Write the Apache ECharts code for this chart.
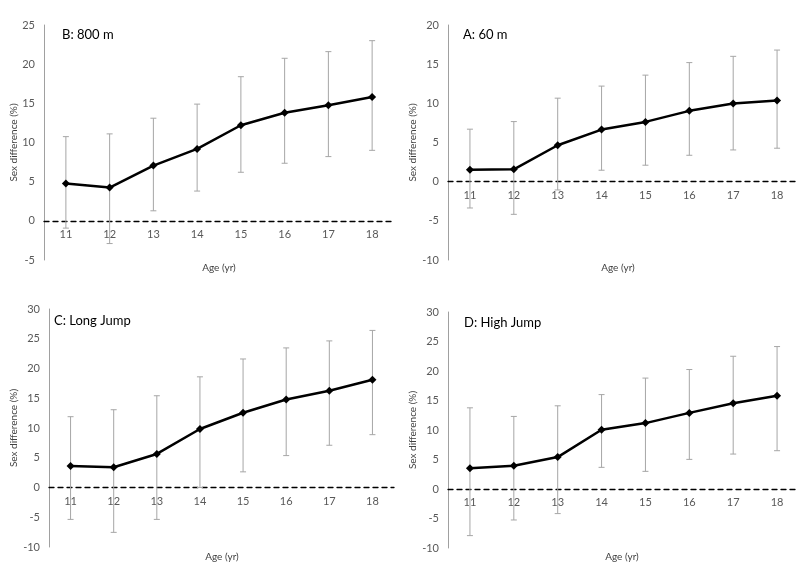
<!DOCTYPE html>
<html><head><meta charset="utf-8">
<script src="https://cdn.jsdelivr.net/npm/echarts@6/dist/echarts.min.js"></script>
<style>html,body{margin:0;padding:0;background:#fff}#c{width:800px;height:565px}</style>
</head><body><div id="c"></div>
<script>
const ages = ['11','12','13','14','15','16','17','18'];

const m800Mean = [4.76, 4.25, 7.05, 9.18, 12.2, 13.8, 14.75, 15.8];
const m800Low  = [-0.93, -2.9, 1.28, 3.8, 6.2, 7.35, 8.2, 9.0];
const m800High = [10.75, 11.1, 13.1, 14.9, 18.4, 20.75, 21.6, 23.0];

const m60Mean = [1.53, 1.58, 4.65, 6.65, 7.63, 9.04, 9.97, 10.36];
const m60Low  = [-3.36, -4.17, -1.06, 1.46, 2.1, 3.37, 4.05, 4.27];
const m60High = [6.7, 7.67, 10.66, 12.2, 13.6, 15.2, 16.0, 16.8];

const ljMean = [3.63, 3.41, 5.64, 9.83, 12.57, 14.8, 16.26, 18.1];
const ljLow  = [-5.36, -7.54, -5.36, 0.0, 2.63, 5.36, 7.1, 8.88];
const ljHigh = [11.9, 13.07, 15.42, 18.6, 21.6, 23.46, 24.64, 26.4];

const hjMean = [3.5, 3.95, 5.41, 10.04, 11.17, 12.9, 14.55, 15.8];
const hjLow  = [-7.9, -5.25, -4.17, 3.67, 2.99, 5.02, 5.92, 6.49];
const hjHigh = [13.76, 12.3, 14.1, 16.0, 18.8, 20.25, 22.5, 24.14];

const panelTitles = ['B: 800 m', 'A: 60 m', 'C: Long Jump', 'D: High Jump'];
const yMin = [-5, -10, -10, -10];
const yMax = [25, 20, 30, 30];
const xTitle = 'Age (yr)';
const yTitle = 'Sex difference (%)';

const panels = [
  {mean: m800Mean, low: m800Low, high: m800High},
  {mean: m60Mean, low: m60Low, high: m60High},
  {mean: ljMean, low: ljLow, high: ljHigh},
  {mean: hjMean, low: hjLow, high: hjHigh}
];

const FONT = 'Lato, "Open Sans", sans-serif';
const grids = [
  {left: 44, top: 25, width: 350, height: 235},
  {left: 448, top: 25, width: 351, height: 235},
  {left: 49, top: 309, width: 345, height: 238},
  {left: 448, top: 312, width: 351, height: 236}
];
const titlePos = [[62, 35], [463, 35], [54, 321], [464, 323]];
const agePos = [[219, 268], [618, 268], [222, 557], [622, 557]];

function errRender(params, api) {
  const x = api.value(0), lo = api.value(1), hi = api.value(2);
  const pLo = api.coord([x, lo]), pHi = api.coord([x, hi]);
  const w = 3;
  const style = {stroke: '#a6a6a6', lineWidth: 1};
  return {type: 'group', children: [
    {type: 'line', shape: {x1: pLo[0], y1: pLo[1], x2: pHi[0], y2: pHi[1]}, style: style},
    {type: 'line', shape: {x1: pLo[0]-w, y1: pLo[1], x2: pLo[0]+w, y2: pLo[1]}, style: style},
    {type: 'line', shape: {x1: pHi[0]-w, y1: pHi[1], x2: pHi[0]+w, y2: pHi[1]}, style: style}
  ]};
}

const xAxis = [], yAxis = [], series = [], graphic = [];
panels.forEach((p, i) => {
  // shift the category axis (line + labels) up to the value 0 of the y axis
  const zeroShift = grids[i].height * (0 - yMin[i]) / (yMax[i] - yMin[i]);
  xAxis.push({
    type: 'category', gridIndex: i, data: ages, boundaryGap: true,
    position: 'bottom', offset: -zeroShift,
    axisLine: {show: true, onZero: false, lineStyle: {color: '#000', width: 1.3, type: [5, 4]}},
    axisTick: {show: false},
    axisLabel: {color: '#595959', fontSize: 11, fontFamily: FONT, margin: 8}
  });
  yAxis.push({
    type: 'value', gridIndex: i, min: yMin[i], max: yMax[i], interval: 5,
    splitLine: {show: false},
    axisLine: {show: true, onZero: false, lineStyle: {color: '#a0a0a0', width: 1}},
    axisTick: {show: false},
    axisLabel: {color: '#595959', fontSize: 11, fontFamily: FONT, margin: 9},
    name: yTitle, nameLocation: 'middle', nameRotate: 90, nameGap: 23,
    nameTextStyle: {color: '#404040', fontSize: 10, fontFamily: FONT}
  });
  series.push({
    type: 'custom', xAxisIndex: i, yAxisIndex: i, z: 1,
    renderItem: errRender, encode: {x: 0, y: [1, 2]},
    data: ages.map((a, k) => [k, p.low[k], p.high[k]])
  });
  series.push({
    type: 'line', xAxisIndex: i, yAxisIndex: i, z: 3,
    data: p.mean, symbol: 'diamond', symbolSize: 8,
    lineStyle: {color: '#000', width: 2.5},
    itemStyle: {color: '#000'}
  });
  graphic.push({
    type: 'text', x: titlePos[i][0], y: titlePos[i][1],
    style: {text: panelTitles[i], fontSize: 13, fontFamily: FONT, fill: '#000', align: 'left', verticalAlign: 'middle'}
  });
  graphic.push({
    type: 'text', x: agePos[i][0], y: agePos[i][1],
    style: {text: xTitle, fontSize: 10, fontFamily: FONT, fill: '#404040', align: 'center', verticalAlign: 'middle'}
  });
});

const chart = echarts.init(document.getElementById('c'));
chart.setOption({
  animation: false,
  backgroundColor: '#fff',
  grid: grids,
  xAxis: xAxis,
  yAxis: yAxis,
  series: series,
  graphic: graphic
});
</script>
</body></html>
